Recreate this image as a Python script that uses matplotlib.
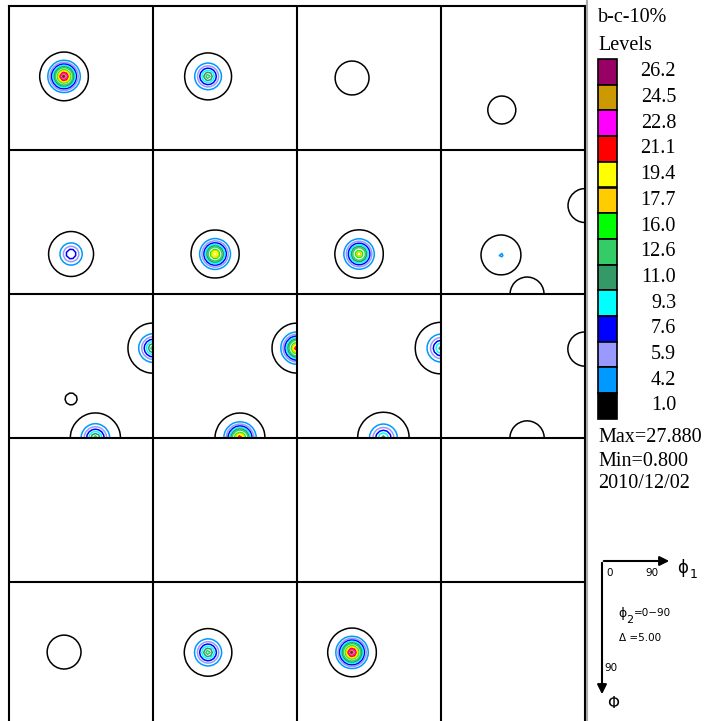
import numpy as np
import matplotlib.pyplot as plt
from matplotlib.patches import Rectangle

# contour levels and their colours (as in the legend)
levels = [1.0, 4.2, 5.9, 7.6, 9.3, 11.0, 12.6, 16.0, 17.7, 19.4, 21.1, 22.8, 24.5, 26.2]
level_colors = ['#000000', '#0099ff', '#9999ff', '#0000ff', '#00ffff', '#339966', '#33cc66',
                '#00ff00', '#ffcc00', '#ffff00', '#ff0000', '#ff00ff', '#cc9900', '#990066']

# texture components: section (row, col), phi1, Phi (deg), peak value, width (deg)
peak_row = [0, 0, 0, 0, 1, 1, 1, 1, 1, 1, 2, 2, 2, 2, 2, 2, 2, 2, 2, 4, 4, 4]
peak_col = [0, 1, 2, 3, 0, 1, 2, 3, 3, 3, 0, 0, 0, 1, 1, 2, 2, 3, 3, 0, 1, 2]
peak_phi1 = [34.4, 34.4, 34.4, 38.0, 38.8, 38.8, 38.8, 37.5, 90.0, 53.8,
             90.0, 38.8, 54.0, 90.0, 54.4, 90.0, 54.0, 90.0, 53.8, 34.4, 34.4, 34.4]
peak_Phi = [44.0, 44.0, 45.0, 65.0, 65.0, 65.0, 65.0, 65.6, 34.7, 90.0,
            33.8, 65.6, 90.0, 33.8, 90.0, 33.8, 90.0, 34.4, 90.0, 43.8, 44.0, 44.0]
peak_max = [27.88, 14.0, 3.5, 2.5, 10.0, 22.0, 20.0, 4.5, 3.0, 3.0,
            14.0, 1.3, 14.0, 24.0, 24.0, 12.0, 12.0, 3.0, 3.0, 3.5, 14.0, 27.88]
peak_width = [6.4, 7.3, 9.0, 9.3, 7.7, 6.7, 6.9, 9.3, 9.9, 9.9,
              7.8, 9.8, 7.8, 6.8, 6.8, 8.4, 8.4, 10.0, 10.0, 9.0, 7.4, 6.4]

n_rows, n_cols = 5, 4
g = np.linspace(0, 90, 46)
X, Y = np.meshgrid(g, g)

fig = plt.figure(figsize=(7.07, 7.21), dpi=100)
ax = fig.add_axes([9/707, 1 - 726/721, 576/707, 720/721])
ax.set_xlim(0, 90 * n_cols)
ax.set_ylim(90 * n_rows, 0)
ax.set_xticks([])
ax.set_yticks([])
for s in ax.spines.values():
    s.set_linewidth(1.5)

for r in range(n_rows):
    for c in range(n_cols):
        Z = np.zeros_like(X)
        for i in range(len(peak_row)):
            if peak_row[i] == r and peak_col[i] == c:
                d = np.hypot(X - peak_phi1[i], Y - peak_Phi[i])
                Z = np.maximum(Z, peak_max[i] * np.exp(-(d / peak_width[i]) ** 1.4))
        if Z.max() > levels[0]:
            ax.contour(X + c * 90, Y + r * 90, Z, levels=levels,
                       colors=level_colors, linewidths=1.1)

for c in range(1, n_cols):
    ax.axvline(c * 90, color='black', lw=1.5)
for r in range(1, n_rows):
    ax.axhline(r * 90, color='black', lw=1.5)

# legend / annotation layer in pixel coordinates
ov = fig.add_axes([0, 0, 1, 1])
ov.set_xlim(0, 707)
ov.set_ylim(721, 0)
ov.axis('off')
ov.patch.set_alpha(0)

ov.plot([587, 587], [0, 721], color='#aaaaaa', lw=1.5)

serif = dict(family='Liberation Serif', fontsize=14.5, color='black')
ov.text(598, 18, 'b-c-10%', va='center', ha='left', **serif)
ov.text(598, 46, 'Levels', va='center', ha='left', **serif)

step = 25.7
for i, (lev, col) in enumerate(zip(levels[::-1], level_colors[::-1])):
    y = 59 + i * step
    ov.add_patch(Rectangle((598, y), 19, step, facecolor=col, edgecolor='black', lw=1.2))
    ov.text(676, y + step / 2, '%.1f' % lev, va='center', ha='right', **serif)

ov.text(598, 438, 'Max=27.880', va='center', ha='left', **serif)
ov.text(598, 461, 'Min=0.800', va='center', ha='left', **serif)
ov.text(598, 484, '2010/12/02', va='center', ha='left', **serif)

# axis key
ov.annotate('', xy=(672, 561), xytext=(601, 561),
            arrowprops=dict(arrowstyle='-|>', color='black', lw=1.5, mutation_scale=14))
ov.annotate('', xy=(602, 697), xytext=(602, 560),
            arrowprops=dict(arrowstyle='-|>', color='black', lw=1.5, mutation_scale=14))
small = dict(family='DejaVu Sans', fontsize=7.5, color='black')
ov.text(606, 573, '0', va='center', ha='left', **small)
ov.text(645, 573, '90', va='center', ha='left', **small)
ov.text(677, 568, 'ϕ', va='center', ha='left', family='DejaVu Sans', fontsize=12)
ov.text(690, 574, '1', va='center', ha='left', family='DejaVu Sans', fontsize=9)
ov.text(618, 613, 'ϕ', va='center', ha='left', family='DejaVu Sans', fontsize=9)
ov.text(626, 620, '2', va='center', ha='left', family='DejaVu Sans', fontsize=8)
ov.text(634, 613, '=0−90', va='center', ha='left', **small)
ov.text(619, 638, 'Δ =5.00', va='center', ha='left', **small)
ov.text(604, 668, '90', va='center', ha='left', **small)
ov.text(607, 703, 'Φ', va='center', ha='left', family='DejaVu Sans', fontsize=11)

fig.savefig('out.png', dpi=100)
